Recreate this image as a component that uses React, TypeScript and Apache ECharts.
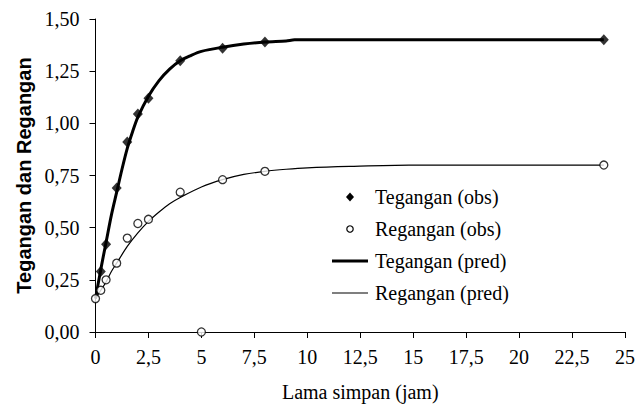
import React, { useEffect, useRef } from "react";
import * as echarts from "echarts";

const teganganObsX = [0.25, 0.5, 1, 1.5, 2, 2.5, 4, 6, 8, 24];
const teganganObsY = [0.29, 0.42, 0.69, 0.91, 1.045, 1.12, 1.3, 1.36, 1.39, 1.4];

const reganganObsX = [0, 0.25, 0.5, 1, 1.5, 2, 2.5, 4, 5, 6, 8, 24];
const reganganObsY = [0.16, 0.2, 0.25, 0.33, 0.45, 0.52, 0.54, 0.67, 0.0, 0.73, 0.77, 0.8];

const teganganPredX = [0, 0.25, 0.5, 0.75, 1, 1.25, 1.5, 1.75, 2, 2.5, 3, 3.5, 4, 4.5, 5, 6, 7, 8, 9, 9.4, 24];
const teganganPredY = [0.16, 0.3, 0.43, 0.56, 0.67, 0.78, 0.88, 0.96, 1.03, 1.13, 1.205, 1.26, 1.3, 1.325, 1.345, 1.365, 1.38, 1.39, 1.395, 1.4, 1.4];

const reganganPredX = [0, 0.25, 0.5, 0.75, 1, 1.5, 2, 2.5, 3, 3.5, 4, 5, 6, 7, 8, 9, 10, 12, 14.8, 24];
const reganganPredY = [0.16, 0.2, 0.24, 0.29, 0.33, 0.41, 0.475, 0.53, 0.575, 0.615, 0.645, 0.695, 0.73, 0.755, 0.77, 0.78, 0.787, 0.794, 0.8, 0.8];

const legendLabels = ["Tegangan (obs)", "Regangan (obs)", "Tegangan (pred)", "Regangan (pred)"];

const zip = (xs: number[], ys: number[]) => xs.map((x, i) => [x, ys[i]]);
const comma = (v: number, d: number) => v.toFixed(d).replace(".", ",");

export default function App() {
  const ref = useRef<HTMLDivElement>(null);
  useEffect(() => {
    if (!ref.current) return;
    const chart = echarts.init(ref.current, null, { renderer: "svg" });
    const serif = "'Liberation Serif', 'Times New Roman', serif";
    const lx = 350;
    const tx = 375;
    const rows = [197, 229, 261, 293];
    chart.setOption({
      animation: false,
      backgroundColor: "#fff",
      grid: { left: 95.5, right: 19, top: 19, bottom: 77 },
      xAxis: {
        type: "value",
        min: 0,
        max: 25,
        interval: 2.5,
        name: "Lama simpan (jam)",
        nameLocation: "middle",
        nameGap: 50,
        nameTextStyle: { fontFamily: serif, fontSize: 20, color: "#000" },
        axisLine: { show: true, lineStyle: { color: "#000", width: 1 } },
        axisTick: { show: true, inside: false, length: 6, lineStyle: { color: "#000" } },
        axisLabel: {
          margin: 15,
          fontFamily: serif,
          fontSize: 20,
          color: "#000",
          formatter: (v: number) => (Number.isInteger(v) ? String(v) : comma(v, 1)),
        },
        splitLine: { show: false },
      },
      yAxis: {
        type: "value",
        min: 0,
        max: 1.5,
        interval: 0.25,
        name: "Tegangan dan Regangan",
        nameLocation: "middle",
        nameGap: 60,
        nameTextStyle: {
          fontFamily: "'Liberation Sans', Arial, sans-serif",
          fontWeight: "bold",
          fontSize: 20,
          color: "#000",
        },
        axisLine: { show: true, lineStyle: { color: "#000", width: 1 } },
        axisTick: { show: true, inside: false, length: 6, lineStyle: { color: "#000" } },
        axisLabel: {
          margin: 16,
          fontFamily: serif,
          fontSize: 20,
          color: "#000",
          formatter: (v: number) => comma(v, 2),
        },
        splitLine: { show: false },
      },
      series: [
        {
          name: "Tegangan (pred)",
          type: "line",
          data: zip(teganganPredX, teganganPredY),
          smooth: 0.3,
          showSymbol: false,
          symbol: "none",
          lineStyle: { color: "#000", width: 3 },
          z: 2,
        },
        {
          name: "Regangan (pred)",
          type: "line",
          data: zip(reganganPredX, reganganPredY),
          smooth: 0.3,
          showSymbol: false,
          symbol: "none",
          lineStyle: { color: "#000", width: 1.2 },
          z: 2,
        },
        {
          name: "Tegangan (obs)",
          type: "scatter",
          data: zip(teganganObsX, teganganObsY),
          symbol: "diamond",
          symbolSize: [10, 11],
          itemStyle: { color: "#000" },
          z: 3,
        },
        {
          name: "Regangan (obs)",
          type: "scatter",
          data: zip(reganganObsX, reganganObsY),
          symbol: "circle",
          symbolSize: 8,
          itemStyle: { color: "#fff", borderColor: "#000", borderWidth: 1.3 },
          z: 4,
        },
      ],
      graphic: [
        { type: "polygon", shape: { points: [[lx, rows[0] - 4.5], [lx + 4, rows[0]], [lx, rows[0] + 4.5], [lx - 4, rows[0]]] }, style: { fill: "#000" } },
        { type: "circle", shape: { cx: lx, cy: rows[1], r: 3.2 }, style: { fill: "#fff", stroke: "#000", lineWidth: 1.2 } },
        { type: "line", shape: { x1: 332, y1: rows[2], x2: 368, y2: rows[2] }, style: { stroke: "#000", lineWidth: 3 } },
        { type: "line", shape: { x1: 332, y1: rows[3], x2: 368, y2: rows[3] }, style: { stroke: "#000", lineWidth: 1.2 } },
        ...legendLabels.map((t, i) => ({
          type: "text",
          x: tx,
          y: rows[i],
          style: { text: t, fontFamily: serif, fontSize: 20, fill: "#000", verticalAlign: "middle", align: "left" },
        })),
      ],
    });
    return () => chart.dispose();
  }, []);
  return <div ref={ref} style={{ width: 644, height: 409, position: "absolute", left: 0, top: 0 }} />;
}
